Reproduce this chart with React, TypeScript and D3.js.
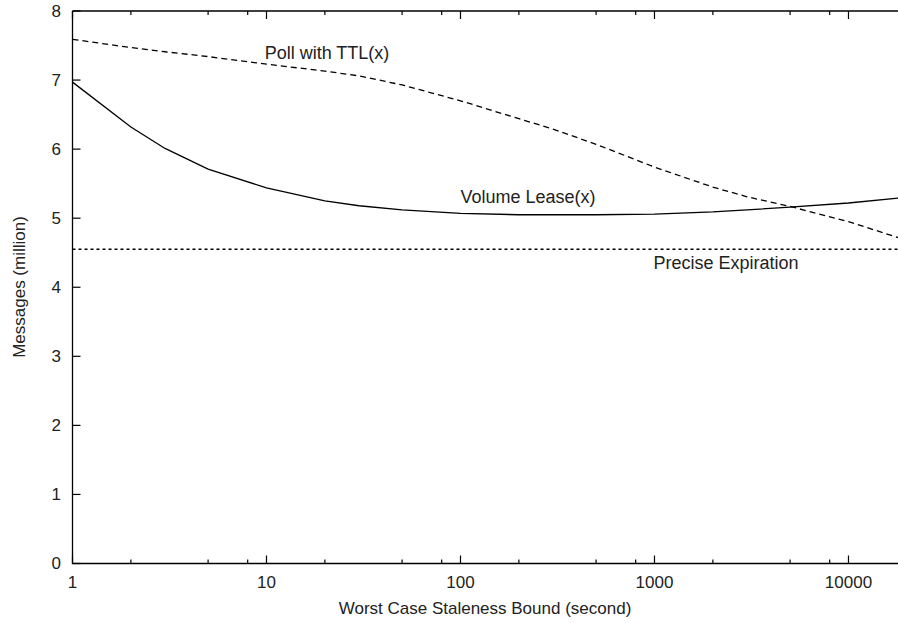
import React from "react";
import * as d3 from "d3";

const staleness = [1, 2, 3, 5, 10, 20, 30, 50, 100, 200, 300, 500, 1000, 2000, 3000, 5000, 10000, 18000];
const volumeLease = [6.97, 6.32, 6.01, 5.71, 5.44, 5.25, 5.18, 5.12, 5.07, 5.05, 5.05, 5.05, 5.06, 5.09, 5.12, 5.16, 5.22, 5.29];
const pollTTL = [7.59, 7.47, 7.41, 7.34, 7.23, 7.13, 7.06, 6.93, 6.7, 6.44, 6.29, 6.07, 5.74, 5.45, 5.31, 5.17, 4.95, 4.72];
const preciseExpiration = 4.55;
const yTicks = [0, 1, 2, 3, 4, 5, 6, 7, 8];
const xMajorTicks = [1, 10, 100, 1000, 10000];
const xMinorTicks = [2, 5, 8, 20, 50, 80, 200, 500, 800, 2000, 5000, 8000];

const W = 898;
const H = 623;
const left = 72.5;
const right = 898;
const top = 11;
const bottom = 563.5;
const font = "'Liberation Sans', Arial, Helvetica, sans-serif";

export default function App() {
  const x = d3.scaleLog().domain([1, 18000]).range([left, right]);
  const y = d3.scaleLinear().domain([0, 8]).range([bottom, top]);
  const line = d3
    .line<[number, number]>()
    .x((d) => x(d[0]))
    .y((d) => y(d[1]));
  const vl = staleness.map((s, i) => [s, volumeLease[i]] as [number, number]);
  const pt = staleness.map((s, i) => [s, pollTTL[i]] as [number, number]);
  const fs = 17;
  const lfs = 18;
  return (
    <svg
      width={W}
      height={H}
      style={{ position: "absolute", left: 0, top: 0, background: "#fff" }}
      fontFamily={font}
    >
      <rect x={0} y={0} width={W} height={H} fill="#fff" />
      <path d={`M${left},${top}H${W + 2}M${left},${top}V${bottom}H${W + 2}`} stroke="#000" strokeWidth={1.3} fill="none" />
      {yTicks.map((t) => (
        <g key={"y" + t}>
          <line x1={left} x2={left + 8} y1={y(t)} y2={y(t)} stroke="#000" strokeWidth={1.2} />
          <text x={61} y={y(t)} dy="0.35em" textAnchor="end" fontSize={fs} fill="#222">
            {t}
          </text>
        </g>
      ))}
      {xMajorTicks.map((t) => (
        <g key={"x" + t}>
          <line x1={x(t)} x2={x(t)} y1={bottom} y2={bottom - 8} stroke="#000" strokeWidth={1.2} />
          <line x1={x(t)} x2={x(t)} y1={top} y2={top + 8} stroke="#000" strokeWidth={1.2} />
          <text x={x(t)} y={588} textAnchor="middle" fontSize={fs} fill="#222">
            {t}
          </text>
        </g>
      ))}
      {xMinorTicks.map((t) => (
        <g key={"m" + t}>
          <line x1={x(t)} x2={x(t)} y1={bottom} y2={bottom - 4} stroke="#000" strokeWidth={1.2} />
          <line x1={x(t)} x2={x(t)} y1={top} y2={top + 4} stroke="#000" strokeWidth={1.2} />
        </g>
      ))}
      <path d={line(pt) || ""} fill="none" stroke="#000" strokeWidth={1.3} strokeDasharray="6,4" />
      <path d={line(vl) || ""} fill="none" stroke="#000" strokeWidth={1.3} />
      <line
        x1={x(1)}
        x2={x(18000)}
        y1={y(preciseExpiration)}
        y2={y(preciseExpiration)}
        stroke="#000"
        strokeWidth={1.3}
        strokeDasharray="3,3"
      />
      <text x={327} y={53} dy="0.35em" textAnchor="middle" fontSize={lfs} fill="#222">
        Poll with TTL(x)
      </text>
      <text x={528} y={197} dy="0.35em" textAnchor="middle" fontSize={lfs} fill="#222">
        Volume Lease(x)
      </text>
      <text x={726} y={263} dy="0.35em" textAnchor="middle" fontSize={lfs} fill="#222">
        Precise Expiration
      </text>
      <text x={485} y={614} textAnchor="middle" fontSize={fs} fill="#222">
        Worst Case Staleness Bound (second)
      </text>
      <text
        transform={`translate(19,${287}) rotate(-90)`}
        dy="0.35em"
        textAnchor="middle"
        fontSize={fs}
        fill="#222"
      >
        Messages (million)
      </text>
    </svg>
  );
}
